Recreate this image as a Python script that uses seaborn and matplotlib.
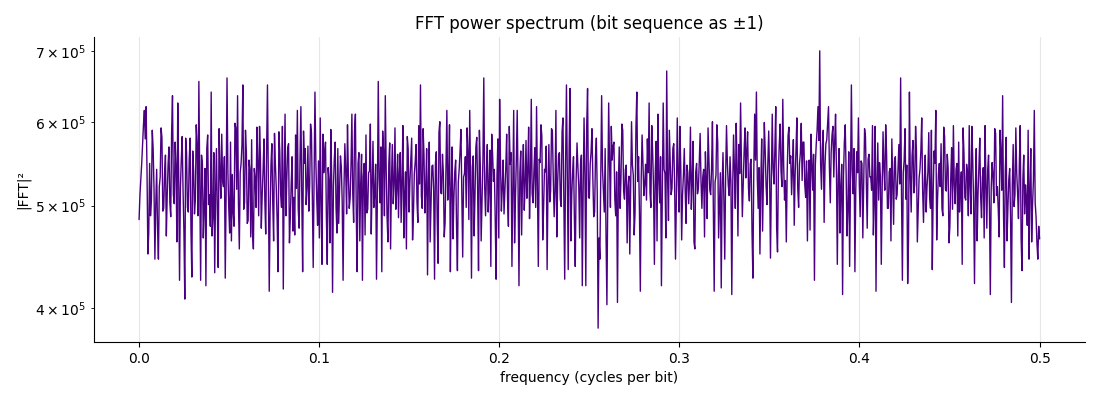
import numpy as np
import pandas as pd
import matplotlib
matplotlib.use("Agg")
import matplotlib.pyplot as plt
import seaborn as sns

# |FFT|^2 values, in thousands (x1e3)
power_k = [
    485, 512, 530, 548, 572, 596, 615, 578, 620, 541, 450, 471, 548, 489, 505, 589,
    566, 518, 445, 502, 541, 476, 445, 521, 532, 592, 580, 494, 497, 536, 558, 468,
    512, 547, 568, 503, 488, 586, 635, 512, 502, 574, 545, 462, 625, 538, 425, 519,
    553, 581, 517, 472, 408, 579, 561, 498, 493, 552, 579, 474, 428, 563, 540, 491,
    506, 596, 571, 489, 655, 523, 425, 558, 547, 466, 498, 542, 420, 566, 583, 501,
    512, 478, 640, 468, 488, 561, 432, 515, 566, 493, 437, 591, 539, 508, 584, 527,
    521, 556, 427, 514, 660, 538, 497, 471, 574, 463, 535, 492, 478, 598, 592, 518,
    635, 503, 455, 537, 548, 571, 650, 496, 503, 589, 562, 481, 484, 552, 541, 467,
    577, 472, 455, 542, 530, 498, 593, 551, 489, 594, 554, 476, 512, 539, 578, 506,
    470, 561, 650, 528, 415, 493, 547, 572, 503, 463, 585, 547, 520, 484, 433, 587,
    562, 513, 498, 594, 417, 531, 610, 489, 531, 567, 572, 461, 487, 524, 556, 473,
    509, 469, 583, 519, 615, 496, 476, 553, 620, 511, 433, 588, 548, 566, 501, 521,
    569, 494, 523, 597, 586, 512, 437, 529, 640, 551, 508, 479, 551, 466, 605, 502,
    440, 584, 537, 562, 574, 488, 440, 543, 528, 461, 590, 533, 414, 521, 553, 574,
    497, 471, 566, 481, 518, 557, 544, 503, 425, 519, 572, 538, 491, 596, 535, 497,
    508, 546, 610, 513, 482, 588, 610, 491, 433, 548, 561, 463, 524, 559, 425, 532,
    548, 469, 583, 492, 496, 537, 539, 597, 470, 524, 575, 498, 514, 547, 426, 512,
    655, 531, 503, 568, 433, 588, 562, 489, 635, 542, 487, 462, 548, 573, 455, 528,
    571, 502, 523, 592, 496, 519, 559, 487, 538, 561, 482, 527, 595, 466, 511, 538,
    455, 581, 566, 493, 527, 552, 579, 464, 492, 536, 550, 571, 505, 482, 595, 524,
    650, 511, 497, 591, 558, 492, 519, 566, 430, 528, 574, 462, 501, 545, 546, 517,
    426, 548, 562, 486, 441, 586, 600, 514, 513, 559, 537, 467, 482, 541, 615, 506,
    528, 596, 433, 517, 568, 465, 509, 538, 552, 478, 434, 526, 541, 563, 590, 509,
    447, 532, 536, 556, 498, 592, 563, 485, 615, 527, 427, 544, 557, 468, 512, 568,
    580, 517, 434, 589, 546, 463, 503, 552, 660, 521, 489, 537, 571, 493, 522, 564,
    438, 584, 559, 527, 541, 485, 426, 533, 578, 466, 630, 548, 494, 519, 552, 491,
    517, 543, 584, 507, 478, 594, 547, 561, 438, 515, 615, 461, 509, 552, 615, 518,
    420, 537, 563, 469, 528, 571, 495, 523, 576, 508, 541, 593, 486, 532, 630, 513,
    503, 539, 567, 498, 620, 526, 438, 553, 549, 596, 582, 464, 497, 541, 538, 569,
    435, 522, 571, 504, 516, 591, 588, 531, 488, 516, 615, 467, 526, 558, 561, 507,
    499, 587, 605, 512, 426, 548, 650, 526, 435, 563, 645, 463, 512, 538, 556, 487,
    438, 529, 573, 544, 521, 466, 548, 558, 420, 517, 605, 534, 420, 594, 645, 509,
    508, 547, 562, 591, 531, 488, 493, 556, 579, 513, 383, 466, 445, 528, 635, 541,
    517, 493, 566, 468, 403, 514, 625, 548, 498, 594, 552, 569, 574, 507, 489, 538,
    405, 522, 568, 497, 531, 597, 589, 516, 507, 541, 546, 461, 521, 533, 450, 518,
    600, 546, 534, 469, 492, 592, 640, 527, 556, 493, 415, 531, 583, 548, 511, 524,
    547, 506, 578, 537, 625, 514, 498, 595, 562, 521, 440, 538, 575, 463, 610, 532,
    503, 556, 420, 519, 625, 541, 536, 466, 670, 529, 484, 589, 551, 512, 519, 566,
    572, 523, 445, 509, 605, 536, 493, 594, 543, 464, 512, 534, 566, 517, 481, 546,
    537, 502, 528, 593, 496, 527, 575, 462, 455, 538, 548, 513, 519, 549, 585, 527,
    497, 532, 541, 467, 562, 529, 486, 592, 553, 517, 512, 542, 600, 503, 415, 526,
    534, 596, 574, 466, 502, 537, 418, 522, 561, 506, 445, 534, 595, 548, 523, 511,
    556, 527, 412, 518, 583, 542, 497, 598, 546, 468, 571, 536, 625, 547, 488, 522,
    562, 592, 531, 564, 587, 519, 505, 548, 553, 472, 427, 537, 610, 552, 640, 531,
    497, 543, 450, 526, 578, 473, 536, 599, 563, 522, 501, 548, 588, 533, 446, 529,
    610, 542, 524, 566, 620, 476, 452, 539, 571, 597, 539, 521, 630, 546, 506, 528,
    462, 538, 582, 593, 548, 557, 512, 541, 577, 479, 534, 563, 605, 519, 498, 547,
    561, 598, 528, 574, 574, 523, 509, 551, 463, 536, 552, 474, 584, 546, 517, 559,
    425, 546, 571, 589, 620, 576, 700, 548, 518, 567, 589, 482, 546, 572, 577, 597,
    620, 544, 503, 561, 583, 594, 532, 574, 610, 541, 440, 532, 566, 471, 521, 547,
    412, 533, 574, 596, 538, 468, 497, 562, 438, 527, 650, 541, 513, 566, 433, 518,
    562, 537, 605, 524, 488, 551, 548, 466, 529, 591, 581, 526, 476, 553, 559, 532,
    532, 517, 595, 469, 506, 594, 415, 528, 573, 506, 549, 533, 440, 519, 587, 542,
    517, 596, 561, 497, 497, 538, 542, 463, 578, 529, 480, 551, 556, 507, 512, 539,
    571, 524, 660, 512, 425, 537, 552, 591, 507, 546, 422, 466, 640, 533, 493, 557,
    576, 514, 523, 594, 563, 462, 497, 531, 541, 563, 605, 518, 482, 527, 558, 493,
    521, 538, 586, 509, 497, 589, 435, 513, 563, 548, 615, 464, 508, 536, 548, 521,
    572, 497, 489, 593, 581, 518, 516, 559, 543, 461, 478, 531, 567, 496, 595, 524,
    502, 541, 548, 468, 574, 493, 519, 538, 440, 592, 561, 509, 506, 547, 538, 489,
    595, 521, 491, 594, 552, 504, 422, 518, 566, 463, 513, 543, 579, 509, 487, 532,
    543, 466, 595, 524, 476, 541, 558, 498, 412, 519, 549, 534, 503, 591, 585, 511,
    521, 496, 467, 589, 562, 517, 635, 491, 437, 538, 580, 463, 498, 529, 542, 487,
    405, 523, 571, 499, 512, 592, 537, 514, 486, 548, 595, 466, 434, 529, 558, 491,
    523, 507, 479, 589, 445, 519, 566, 462, 501, 528, 615, 503, 488, 461, 445, 478,
    465,
]

n_bits = 2048
freq = np.fft.rfftfreq(n_bits)          # 0 .. 0.5 cycles per bit
power = np.array(power_k, dtype=float) * 1e3

df = pd.DataFrame({"frequency": freq, "power": power})

sns.set_style("ticks", rc={
    "axes.edgecolor": "black",
    "axes.labelcolor": "black",
    "text.color": "black",
    "xtick.color": "black",
    "ytick.color": "black",
})
plt.rcParams["font.family"] = ["DejaVu Sans"]

fig = plt.figure(figsize=(11, 4), dpi=100)
ax = fig.add_axes([0.0855, 0.145, 0.9005, 0.7625])

sns.lineplot(data=df, x="frequency", y="power", ax=ax, color="#4B0082",
             linewidth=1.0, estimator=None)

ax.set_yscale("log")
ax.set_title("FFT power spectrum (bit sequence as ±1)", fontsize=12)
ax.set_xlabel("frequency (cycles per bit)", fontsize=10)
ax.set_ylabel("|FFT|²", fontsize=10)
ax.grid(axis="x", color="#e6e6e6", linewidth=0.8)
ax.grid(axis="y", visible=False, which="both")
ax.tick_params(labelsize=10)
sns.despine(ax=ax)

fig.savefig("out.png", dpi=100)
